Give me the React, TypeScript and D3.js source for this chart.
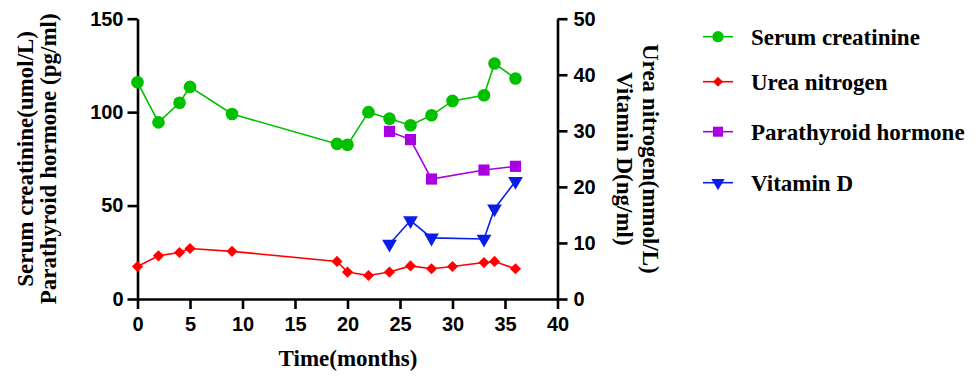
import React, { useEffect, useRef } from "react";
import * as d3 from "d3";

// months for each series
const creatMonths = [0, 2, 4, 5, 9, 19, 20, 22, 24, 26, 28, 30, 33, 34, 36];
const creatValues = [116, 94.5, 105, 113.5, 99, 83, 82.5, 100, 96.5, 93, 98.3, 106, 109, 126, 118];

const ureaMonths = [0, 2, 4, 5, 9, 19, 20, 22, 24, 26, 28, 30, 33, 34, 36];
const ureaValues = [5.8, 7.7, 8.3, 9.0, 8.5, 6.7, 4.8, 4.2, 4.8, 5.9, 5.4, 5.8, 6.5, 6.7, 5.4];

const pthMonths = [24, 26, 28, 33, 36];
const pthValues = [89.7, 85.3, 64.2, 69, 71];

const vitdMonths = [24, 26, 28, 33, 34, 36];
const vitdValues = [9.8, 14, 10.9, 10.7, 16.1, 21];

const xTicks = [0, 5, 10, 15, 20, 25, 30, 35, 40];
const leftTicks = [0, 50, 100, 150];
const rightTicks = [0, 10, 20, 30, 40, 50];

const legendNames = ["Serum creatinine", "Urea nitrogen", "Parathyroid hormone", "Vitamin D"];

const GREEN = "#00c000";
const RED = "#ff0000";
const PURPLE = "#a800e0";
const BLUE = "#0a1ee8";

const serif = "'Liberation Serif', 'Times New Roman', serif";
const sans = "'Liberation Sans', Arial, sans-serif";

const App = () => {
  const ref = useRef<SVGSVGElement>(null);

  useEffect(() => {
    const svg = d3.select(ref.current);
    svg.selectAll("*").remove();

    const left = 137.5;
    const right = 557.5;
    const top = 18.7;
    const bottom = 299;

    const x = d3.scaleLinear().domain([0, 40]).range([left, right]);
    const yL = d3.scaleLinear().domain([0, 150]).range([bottom, top]);
    const yR = d3.scaleLinear().domain([0, 50]).range([bottom, top]);

    const styleAxis = (g: any) => {
      g.attr("font-family", sans).attr("font-weight", "bold").attr("font-size", 20);
      g.select(".domain").attr("stroke", "#000").attr("stroke-width", 2.6);
      g.selectAll(".tick line").attr("stroke", "#000").attr("stroke-width", 2.6);
      g.selectAll("text").attr("fill", "#000");
    };

    // x axis
    svg.append("g")
      .attr("transform", `translate(0,${bottom})`)
      .call(d3.axisBottom(x).tickValues(xTicks).tickSize(10).tickSizeOuter(0).tickPadding(8))
      .call(styleAxis);

    // left axis
    svg.append("g")
      .attr("transform", `translate(${left},0)`)
      .call(d3.axisLeft(yL).tickValues(leftTicks).tickSize(10).tickSizeOuter(0).tickPadding(4))
      .call(styleAxis);

    // right axis
    svg.append("g")
      .attr("transform", `translate(${right},0)`)
      .call(d3.axisRight(yR).tickValues(rightTicks).tickSize(10).tickSizeOuter(0).tickPadding(6))
      .call(styleAxis);

    // axis titles
    const title = (sel: any) =>
      sel.attr("fill", "#000")
        .style("font-family", serif)
        .style("font-weight", "bold")
        .style("font-size", "23px")
        .attr("text-anchor", "middle");

    svg.append("text").call(title)
      .attr("x", 348).attr("y", 366).text("Time(months)");

    svg.append("text").call(title)
      .attr("transform", `translate(33,${(top + bottom) / 2}) rotate(-90)`)
      .text("Serum creatinine(umol/L)");
    svg.append("text").call(title)
      .attr("transform", `translate(56,${(top + bottom) / 2}) rotate(-90)`)
      .text("Parathyroid hormone (pg/ml)");

    svg.append("text").call(title)
      .attr("transform", `translate(643,${(top + bottom) / 2}) rotate(90)`)
      .text("Urea nitrogen(mmol/L)");
    svg.append("text").call(title)
      .attr("transform", `translate(617,${(top + bottom) / 2}) rotate(90)`)
      .text("Vitamin D(ng/ml)");

    const series = [
      { months: creatMonths, values: creatValues, y: yL, color: GREEN, symbol: d3.symbolCircle, size: 125, rot: 0 },
      { months: ureaMonths, values: ureaValues, y: yR, color: RED, symbol: d3.symbolSquare, size: 62, rot: 45 },
      { months: pthMonths, values: pthValues, y: yL, color: PURPLE, symbol: d3.symbolSquare, size: 125, rot: 0 },
      { months: vitdMonths, values: vitdValues, y: yR, color: BLUE, symbol: d3.symbolTriangle, size: 95, rot: 180 },
    ];

    series.forEach((s) => {
      const pts = s.months.map((m, i) => [x(m), s.y(s.values[i])] as [number, number]);
      svg.append("path")
        .datum(pts)
        .attr("fill", "none")
        .attr("stroke", s.color)
        .attr("stroke-width", 1.6)
        .attr("d", d3.line());
      svg.append("g")
        .selectAll("path")
        .data(pts)
        .join("path")
        .attr("transform", (d) => `translate(${d[0]},${d[1]}) rotate(${s.rot})`)
        .attr("d", d3.symbol().type(s.symbol).size(s.size)())
        .attr("fill", s.color);
    });

    // legend
    const legendY = [36.7, 81.7, 131.7, 182.7];
    series.forEach((s, i) => {
      const g = svg.append("g").attr("transform", `translate(0,${legendY[i]})`);
      g.append("line")
        .attr("x1", 703).attr("x2", 733).attr("y1", 0).attr("y2", 0)
        .attr("stroke", s.color).attr("stroke-width", 1.6);
      g.append("path")
        .attr("transform", `translate(718,0) rotate(${s.rot})`)
        .attr("d", d3.symbol().type(s.symbol).size(s.size * 0.8)())
        .attr("fill", s.color);
      g.append("text")
        .attr("x", 751).attr("y", 8)
        .attr("fill", "#000")
        .style("font-family", serif)
        .style("font-weight", "bold")
        .style("font-size", "23px")
        .text(legendNames[i]);
    });
  }, []);

  return (
    <svg
      ref={ref}
      width={979}
      height={376}
      style={{ position: "absolute", left: 0, top: 0, background: "#fff" }}
    />
  );
};

export default App;
